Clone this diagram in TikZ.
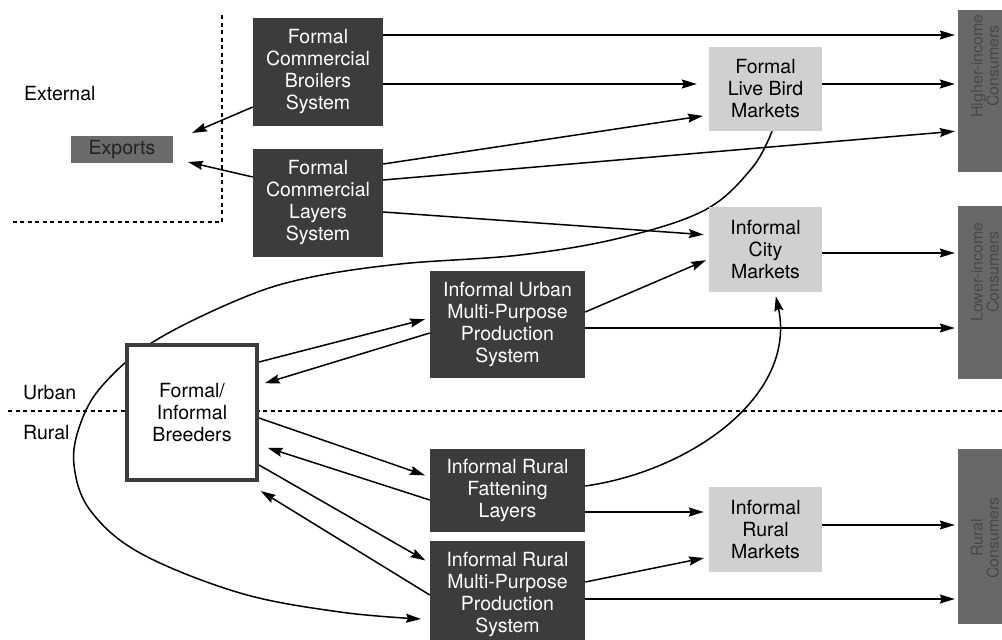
\documentclass[tikz,border=0pt]{standalone}
\usepackage{fontspec}
\setmainfont{TeX Gyre Heros}
\usetikzlibrary{arrows.meta,calc}
\pgfdeclarelayer{bg}
\pgfsetlayers{bg,main}
\definecolor{dboxc}{HTML}{3C3C3C}
\definecolor{lboxc}{HTML}{D0D0D0}
\definecolor{exc}{HTML}{6B6B6B}
\definecolor{extc}{HTML}{222222}
\definecolor{cboxc}{HTML}{686868}
\definecolor{ctextc}{HTML}{484848}
\begin{document}
\begin{tikzpicture}[x=1pt,y=-1pt,
  txt/.style={font=\fontsize{19.5}{22}\selectfont, inner sep=0pt, align=center},
  dbox/.style={txt, fill=dboxc, text=white},
  lbox/.style={txt, fill=lboxc, text=black},
  cbox/.style={fill=cboxc, inner sep=0pt},
  ctext/.style={font=\fontsize{16}{16}\selectfont, text=ctextc, rotate=90, align=center, inner sep=0pt},
  brbox/.style={txt, draw=dboxc, line width=4pt, fill=white, text=black},
  arr/.style={line width=1.5pt, -{Stealth[length=15pt,width=9pt,inset=2pt]}, shorten >=3pt},
  zone/.style={line width=2.2pt, dash pattern=on 4pt off 3.5pt},
  lbl/.style={txt, anchor=west}]
\useasboundingbox (0,0) rectangle (1002,640);

% nodes
\node[dbox, minimum width=130pt, minimum height=108pt] (br) at (318,72) {Formal\\Commercial\\Broilers\\System};
\node[dbox, minimum width=130pt, minimum height=108pt] (la) at (318,203) {Formal\\Commercial\\Layers\\System};
\node[txt, fill=exc, text=extc, minimum width=102pt, minimum height=27pt] (ex) at (122,149.5) {Exports};
\node[lbox, minimum width=113pt, minimum height=84pt] (flbm) at (765.5,89) {Formal\\Live Bird\\Markets};
\node[lbox, minimum width=113pt, minimum height=85pt] (icm) at (765.5,249.5) {Informal\\City\\Markets};
\node[dbox, minimum width=155pt, minimum height=107pt] (ump) at (507.5,324.5) {Informal Urban\\Multi-Purpose\\Production\\System};
\node[brbox, minimum width=130pt, minimum height=135pt] (bre) at (192,412.5) {Formal/\\Informal\\Breeders};
\node[dbox, minimum width=155pt, minimum height=83pt] (rfl) at (507.5,490.5) {Informal Rural\\Fattening\\Layers};
\node[dbox, minimum width=155pt, minimum height=107pt] (rmp) at (507.5,594.5) {Informal Rural\\Multi-Purpose\\Production\\System};
\node[lbox, minimum width=113pt, minimum height=85pt] (irm) at (765.5,529.5) {Informal\\Rural\\Markets};

\node[cbox, minimum width=54pt, minimum height=162pt] (hic) at (985,91) {};
\node[ctext] (hict) at (985,66) {Higher-income\\Consumers};
\node[cbox, minimum width=54pt, minimum height=173pt] (lic) at (985,292.5) {};
\node[ctext] (lict) at (985,272) {Lower-income\\Consumers};
\node[cbox, minimum width=54pt, minimum height=175pt] (rc) at (985,536.5) {};
\node[ctext] (rct) at (985,538) {Rural\\Consumers};

\node[lbl] (ext) at (24,94) {External};
\node[lbl] (urb) at (23,393) {Urban};
\node[lbl] (rur) at (23,433) {Rural};

\coordinate (ex1) at (192,133);
\coordinate (ex2) at (188,162);

\begin{pgfonlayer}{bg}
\draw[zone] (222,15) -- (222,222) -- (12,222);
\draw[zone] (8,411) -- (1002,411);

\draw[arr] (br.east |- 0,35) -- (hic.west |- 0,35);
\draw[arr, shorten >=12pt] (br.east |- 0,84) -- (flbm.west |- 0,84);
\draw[arr] (flbm.east |- 0,84) -- (hic.west |- 0,84);
\draw[arr, shorten >=0pt] (br.west |- 0,107) -- (ex1);
\draw[arr, shorten >=0pt] (la.west |- 0,177) -- (ex2);
\draw[arr, shorten >=6pt] (la.east |- 0,164) -- (flbm.west |- 0,115);
\draw[arr] (la.east |- 0,180) -- (hic.west |- 0,131);
\draw[arr, shorten >=5pt] (la.east |- 0,212) -- (icm.west |- 0,235);
\draw[arr] (icm.east |- 0,253) -- (lic.west |- 0,253);
\draw[arr] (ump.east |- 0,312) -- (icm.west |- 0,259);
\draw[arr] (ump.east |- 0,328) -- (lic.west |- 0,328);
\draw[arr, shorten >=5pt] (bre.east |- 0,362) -- (ump.west |- 0,318);
\draw[arr, shorten >=6pt] (ump.west |- 0,333) -- (bre.east |- 0,385);
\draw[arr, shorten >=5pt] (bre.east |- 0,418) -- (rfl.west |- 0,477);
\draw[arr, shorten >=9pt] (rfl.west |- 0,500) -- (bre.east |- 0,445);
\draw[arr, shorten >=5pt] (bre.east |- 0,465) -- (rmp.west |- 0,563);
\draw[arr, shorten >=2pt] (rmp.west |- 0,595) -- (bre.east |- 0,490);
\draw[arr, shorten >=4pt] (rfl.east |- 0,486) to[out=8,in=-78] (icm.south -| 775,0);
\draw[arr, shorten >=5pt] (rfl.east |- 0,512) -- (irm.west |- 0,512);
\draw[arr, shorten >=5pt] (rmp.east |- 0,582) -- (irm.west |- 0,557);
\draw[arr] (rmp.east |- 0,599) -- (rc.west |- 0,599);
\draw[arr] (irm.east |- 0,525) -- (rc.west |- 0,525);
\draw[arr, shorten >=0pt] plot[smooth, tension=0.6] coordinates {(flbm.south -| 772,0) (752,168) (705,210) (620,238) (520,255) (400,264) (307,278) (240,299) (153,342) (102,386) (80,425) (74,465) (90,510) (140,553) (240,593) (340,612) (421,619)};
\end{pgfonlayer}
\end{tikzpicture}
\end{document}
